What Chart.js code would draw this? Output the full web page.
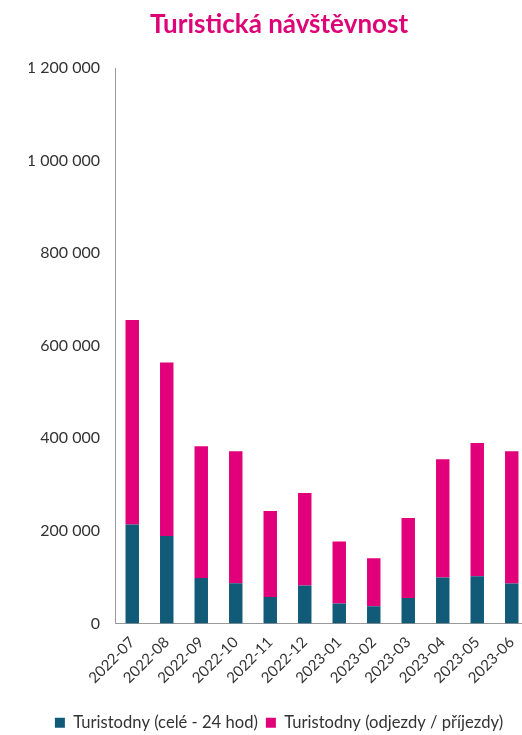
<!DOCTYPE html>
<html>
<head>
<meta charset="utf-8">
<script src="https://cdn.jsdelivr.net/npm/chart.js@4"></script>
<style>
  html, body { margin: 0; padding: 0; background: #fff; overflow: hidden; }
  #wrap { width: 558px; height: 735px; }
</style>
</head>
<body>
<div id="wrap"><canvas id="visits"></canvas></div>
<script>
var months = ['2022-07', '2022-08', '2022-09', '2022-10', '2022-11', '2022-12',
              '2023-01', '2023-02', '2023-03', '2023-04', '2023-05', '2023-06'];
var fullDays = [214000, 189000, 98000, 87000, 57000, 82000,
                43000, 37000, 55000, 99000, 102000, 86000];
var partDays = [442000, 375000, 285000, 285000, 186000, 200000,
                134000, 104000, 173000, 256000, 288000, 286000];
var yTicks = [0, 200000, 400000, 600000, 800000, 1000000, 1200000];

var font = "Lato, 'Open Sans', sans-serif";
Chart.defaults.font.family = font;
Chart.defaults.color = '#333';

function spaced(v) {
  return String(v).replace(/\B(?=(\d{3})+(?!\d))/g, ' ');
}

var ctx = document.getElementById('visits').getContext('2d');

new Chart(ctx, {
  type: 'bar',
  data: {
    labels: months,
    datasets: [
      {
        label: 'Turistodny (celé - 24 hod)',
        data: fullDays,
        backgroundColor: '#115a78',
        barPercentage: 0.39,
        categoryPercentage: 1
      },
      {
        label: 'Turistodny (odjezdy / příjezdy)',
        data: partDays,
        backgroundColor: '#e2007a',
        barPercentage: 0.39,
        categoryPercentage: 1
      }
    ]
  },
  options: {
    responsive: true,
    maintainAspectRatio: false,
    animation: false,
    layout: { padding: { left: 29, right: 29, top: 0, bottom: -6 } },
    plugins: {
      title: {
        display: true,
        text: 'Turistická návštěvnost',
        color: '#dc0477',
        font: { size: 26, weight: 'bold' },
        padding: { top: 9, bottom: 28 }
      },
      legend: {
        position: 'bottom',
        labels: {
          boxWidth: 10,
          boxHeight: 10,
          padding: 8,
          color: '#333',
          font: { size: 16.6 }
        }
      },
      tooltip: { enabled: false }
    },
    scales: {
      x: {
        stacked: true,
        grid: { display: false, drawTicks: false },
        border: { color: '#999', width: 1 },
        afterFit: function (axis) { axis.height = 83; },
        ticks: {
          maxRotation: 45,
          minRotation: 45,
          padding: 10,
          color: '#333',
          font: { size: 15 }
        }
      },
      y: {
        stacked: true,
        min: 0,
        max: 1200000,
        afterBuildTicks: function (axis) {
          axis.ticks = yTicks.map(function (v) { return { value: v }; });
        },
        afterFit: function (axis) { axis.width = 86; },
        grid: { display: false, drawTicks: false },
        border: { color: '#999', width: 1 },
        ticks: {
          padding: 15,
          color: '#333',
          font: { size: 16 },
          callback: function (v) { return spaced(v); }
        }
      }
    }
  }
});
</script>
</body>
</html>
